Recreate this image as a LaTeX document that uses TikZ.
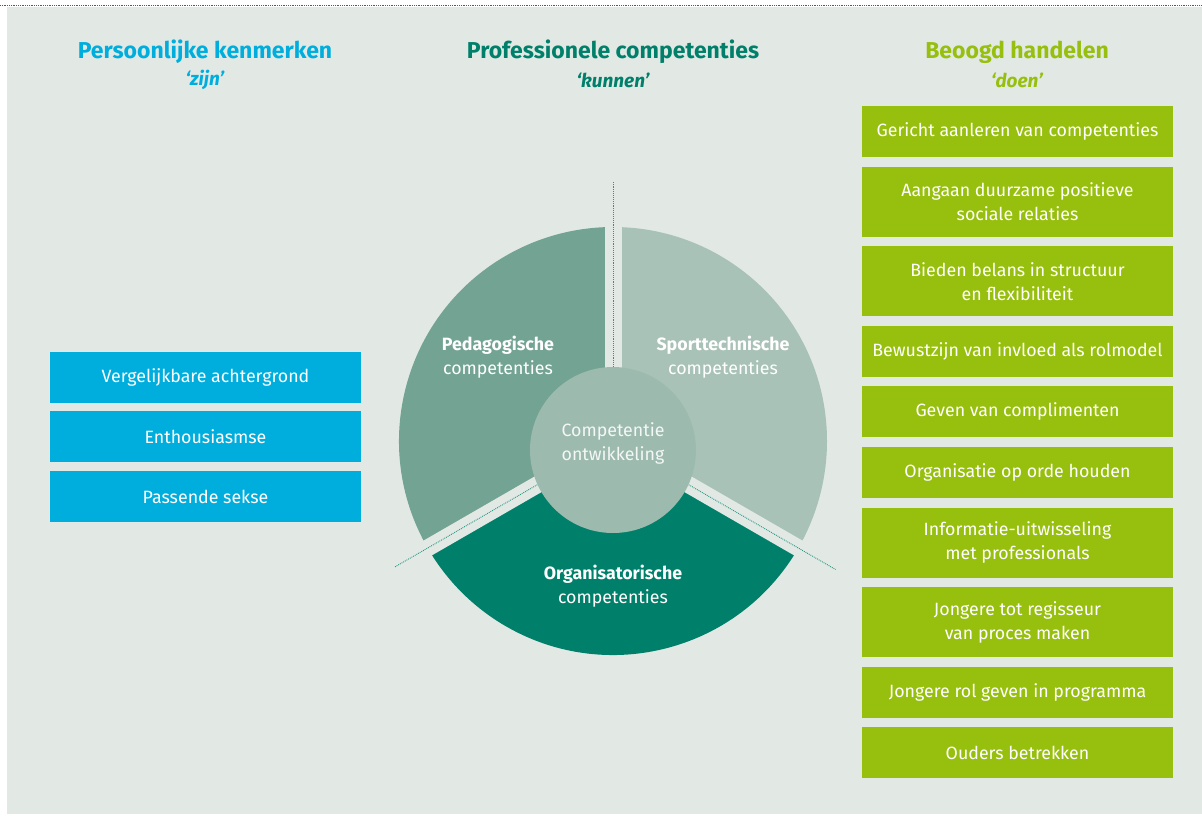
\documentclass[tikz,border=0pt]{standalone}
\usepackage{fontspec}
\setmainfont{Fira Sans}
\definecolor{panelbg}{RGB}{226,233,229}
\definecolor{cblue}{RGB}{0,174,222}
\definecolor{cgreen}{RGB}{151,191,13}
\definecolor{cteal}{RGB}{0,128,106}
\definecolor{cped}{RGB}{114,163,147}
\definecolor{cspo}{RGB}{169,194,183}
\definecolor{ccore}{RGB}{157,186,175}
\definecolor{cdots}{RGB}{40,150,128}
\begin{document}
\begin{tikzpicture}[x=1pt,y=-1pt,
  title/.style={font=\bfseries\fontsize{23}{27}\selectfont},
  subtitle/.style={font=\bfseries\itshape\fontsize{19}{22}\selectfont},
  itembox/.style={minimum width=311pt,inner sep=0pt,text=white,align=center,
    font=\fontsize{17.8}{24}\selectfont},
  single/.style={itembox,minimum height=51pt},
  double/.style={itembox,minimum height=70pt},
  bluebox/.style={single,fill=cblue},
  greenbox/.style={fill=cgreen},
  seclabel/.style={text=white,align=center,font=\fontsize{17.8}{24}\selectfont},
  gap/.style={draw=panelbg,line width=17pt},
  divider/.style={draw=cdots,line width=0.9pt,densely dotted}
]
\useasboundingbox (0,0) rectangle (1202,815);

% page frame
\fill[panelbg] (7,7) rectangle (1202,814);
\draw[gray!70!black,line width=0.8pt,densely dotted] (0,5.5) -- (1202,5.5);

% column headings
\node[title,text=cblue] (hzijn) at (205,52) {Persoonlijke kenmerken};
\node[subtitle,text=cblue] (szijn) at (205,80) {‘zijn’};
\node[title,text=cteal] (hkun) at (613,52) {Professionele competenties};
\node[subtitle,text=cteal] (skun) at (613,80) {‘kunnen’};
\node[title,text=cgreen] (hdoen) at (1017,52) {Beoogd handelen};
\node[subtitle,text=cgreen] (sdoen) at (1017,80) {‘doen’};

% personal traits
\node[bluebox] (p1) at (205.5,377.5) {Vergelijkbare achtergrond};
\node[bluebox] (p2) at (205.5,436.5) {Enthousiasmse};
\node[bluebox] (p3) at (205.5,496.5) {Passende sekse};

% three competence sectors
\coordinate (c) at (613,441);
\fill[cped] (c) -- ++(150:214) arc[start angle=150,end angle=270,radius=214] -- cycle;
\fill[cspo] (c) -- ++(270:214) arc[start angle=270,end angle=390,radius=214] -- cycle;
\fill[cteal] (c) -- ++(30:214) arc[start angle=30,end angle=150,radius=214] -- cycle;
\draw[gap] (c) -- ++(270:240);
\draw[gap] (c) -- ++(150:240);
\draw[gap] (c) -- ++(30:240);
\draw[divider] (c) -- ++(270:260);
\draw[divider] (c) -- ++(150:252);
\draw[divider] (c) -- ++(30:257);

% core
\node[circle,fill=ccore,minimum size=166pt,inner sep=0pt] (core) at (613,450) {};
\node[seclabel,text=white!88!ccore] (corelbl) at (613,443) {Competentie\\ontwikkeling};

\node[seclabel] (ped) at (498,357) {\textbf{Pedagogische}\\competenties};
\node[seclabel] (spo) at (723,357) {\textbf{Sporttechnische}\\competenties};
\node[seclabel] (org) at (613,586) {\textbf{Organisatorische}\\competenties};

% intended actions
\node[single,greenbox] (g1) at (1017.5,131.5) {Gericht aanleren van competenties};
\node[double,greenbox] (g2) at (1017.5,201.6) {Aangaan duurzame positieve\\sociale relaties};
\node[double,greenbox] (g3) at (1017.5,281.2) {Bieden belans in structuur\\en flexibiliteit};
\node[single,greenbox] (g4) at (1017.5,351.3) {Bewustzijn van invloed als rolmodel};
\node[single,greenbox] (g5) at (1017.5,411.9) {Geven van complimenten};
\node[single,greenbox] (g6) at (1017.5,472.5) {Organisatie op orde houden};
\node[double,greenbox] (g7) at (1017.5,542.6) {Informatie-uitwisseling\\met professionals};
\node[double,greenbox] (g8) at (1017.5,622.2) {Jongere tot regisseur\\van proces maken};
\node[single,greenbox] (g9) at (1017.5,692.3) {Jongere rol geven in programma};
\node[single,greenbox] (g10) at (1017.5,752.9) {Ouders betrekken};
\end{tikzpicture}
\end{document}
